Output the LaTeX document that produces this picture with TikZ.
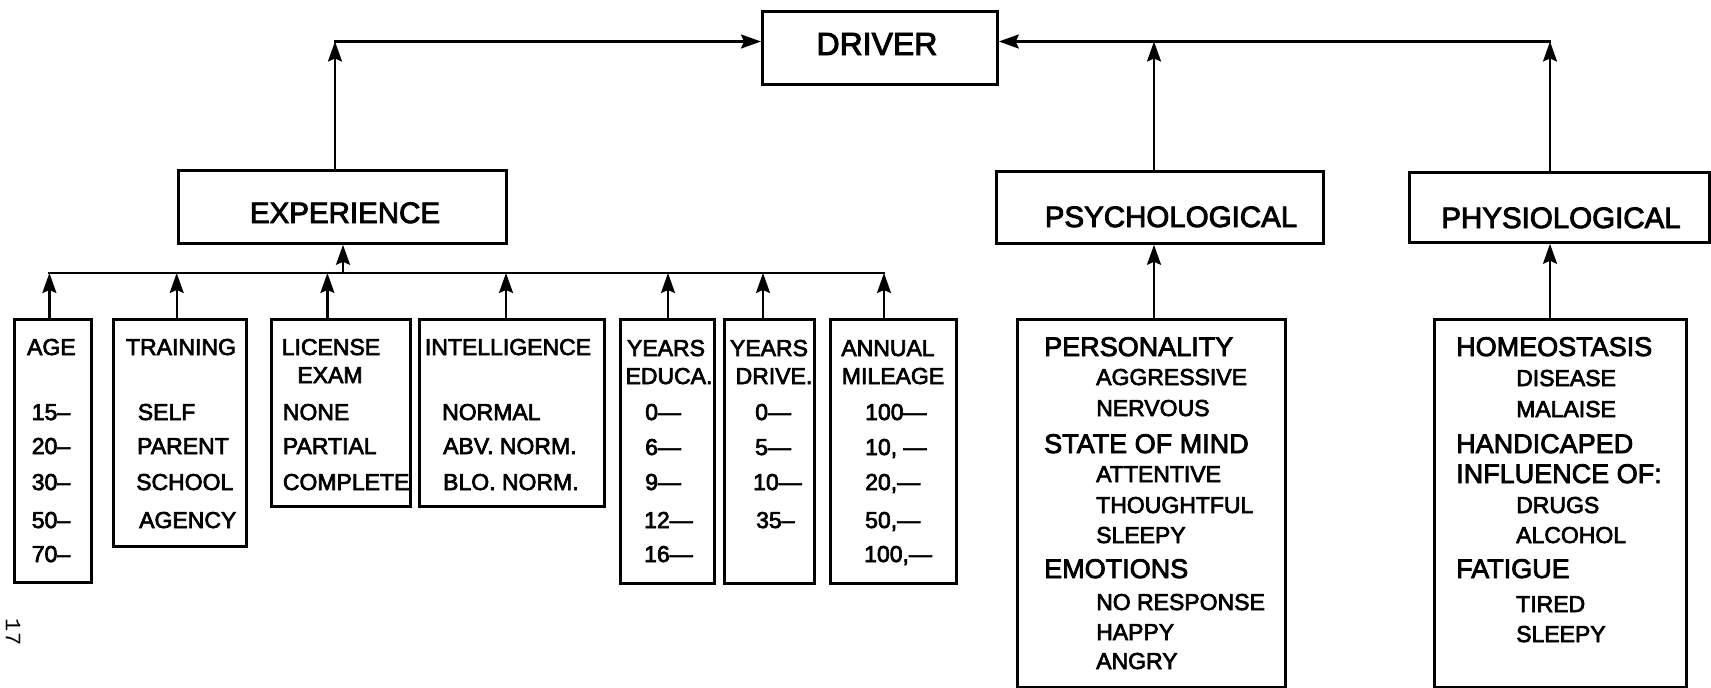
\documentclass[tikz,border=0pt]{standalone}
\usepackage{fontspec}
\setmainfont{Liberation Sans}[FakeBold=3]
\newfontfamily\pgnumfont{Liberation Mono}
\usetikzlibrary{arrows.meta}
\tikzset{
 box/.style={draw, line width=2.8pt, inner sep=0pt, anchor=north west},
 conn/.style={line width=2.2pt, line cap=rect},
 arr/.style={line width=2.2pt, -{Stealth[length=20pt,width=14pt,inset=3pt]}},
 txt/.style={inner sep=0pt, anchor=base west, font=\fontsize{23}{23}\selectfont},
 hd/.style={inner sep=0pt, anchor=base west, font=\fontsize{27}{27}\selectfont},
 ttl/.style={inner sep=0pt, anchor=base, font=\fontsize{23}{23}\selectfont},
 big/.style={inner sep=0pt, anchor=base, font=\fontsize{29.5}{29.5}\selectfont},
}
\begin{document}
\begin{tikzpicture}[x=1pt,y=-1pt]
\useasboundingbox (0,0) rectangle (1711,688);

% main boxes
\node[box, minimum width=235pt, minimum height=73pt] (driver) at (761,10) {};
\node[box, minimum width=328pt, minimum height=73pt] (exp) at (177,169) {};
\node[box, minimum width=327pt, minimum height=72pt] (psych) at (995,170) {};
\node[box, minimum width=300pt, minimum height=70pt] (phys) at (1408,171) {};

\node[big, font=\fontsize{32}{32}\selectfont] (tdriver) at (877,55) {DRIVER};
\node[big] (texp) at (345,223) {EXPERIENCE};
\node[big] (tpsy) at (1171,227) {PSYCHOLOGICAL};
\node[big] (tphy) at (1561,228) {PHYSIOLOGICAL};

% small boxes
\node[box, minimum width=77pt, minimum height=263pt] (age) at (13,318) {};
\node[box, minimum width=133pt, minimum height=227pt] (training) at (112,318) {};
\node[box, minimum width=139pt, minimum height=187pt] (license) at (270,318) {};
\node[box, minimum width=185pt, minimum height=187pt] (intel) at (418,318) {};
\node[box, minimum width=94pt, minimum height=264pt] (educa) at (619,318) {};
\node[box, minimum width=90pt, minimum height=264pt] (drive) at (723,318) {};
\node[box, minimum width=126pt, minimum height=264pt] (mileage) at (829,318) {};
\node[box, minimum width=268pt, minimum height=368pt] (psyitems) at (1016,318) {};
\node[box, minimum width=252pt, minimum height=368pt] (phyitems) at (1433,318) {};

% top connectors
\coordinate (cL) at (335,41.5);
\coordinate (cP) at (1154,41.5);
\coordinate (cR) at (1550,41.5);
\draw[arr] (exp.north -| cL) -- (cL);
\draw[conn] (cL) -- ([xshift=-15pt]cL -| driver.west);
\draw[arr] (cL) -- (cL -| driver.west);
\draw[arr] (psych.north -| cP) -- (cP);
\draw[arr] (phys.north -| cR) -- (cR);
\draw[conn] (cR) -- ([xshift=15pt]cR -| driver.east);
\draw[arr] (cR) -- (cR -| driver.east);
\draw[arr] (psyitems.north -| cP) -- (psych.south -| cP);
\draw[arr] (phyitems.north -| cR) -- (phys.south -| cR);

% bus
\coordinate (bAge) at (49.4,273);
\coordinate (bTrain) at (176.7,273);
\coordinate (bExp) at (343,273);
\coordinate (bLic) at (327.4,273);
\coordinate (bInt) at (506,273);
\coordinate (bEdu) at (668,273);
\coordinate (bDrv) at (763,273);
\coordinate (bMil) at (884,273);
\draw[conn] (bAge) -- (bMil);
\draw[arr] (bExp) -- (exp.south -| bExp);
\draw[arr] (age.north -| bAge) -- (bAge);
\draw[arr] (training.north -| bTrain) -- (bTrain);
\draw[arr] (license.north -| bLic) -- (bLic);
\draw[arr] (intel.north -| bInt) -- (bInt);
\draw[arr] (educa.north -| bEdu) -- (bEdu);
\draw[arr] (drive.north -| bDrv) -- (bDrv);
\draw[arr] (mileage.north -| bMil) -- (bMil);

% AGE
\node[ttl] (tAge) at (51.4,355) {AGE};
\node[txt] (a1) at (31.6,420) {15–};
\node[txt] (a2) at (31.6,454) {20–};
\node[txt] (a3) at (31.6,490) {30–};
\node[txt] (a4) at (31.6,528) {50–};
\node[txt] (a5) at (31.6,562) {70–};
% TRAINING
\node[ttl] (tTrain) at (181,355) {TRAINING};
\node[txt] (t1) at (137.6,420) {SELF};
\node[txt] (t2) at (137,454) {PARENT};
\node[txt] (t3) at (136,490) {SCHOOL};
\node[txt] (t4) at (139,528) {AGENCY};
% LICENSE
\node[ttl] (tLic1) at (331,355) {LICENSE};
\node[ttl] (tLic2) at (330,383) {EXAM};
\node[txt] (l1) at (282.7,420) {NONE};
\node[txt] (l2) at (282.7,454) {PARTIAL};
\node[txt] (l3) at (282.7,490) {COMPLETE};
% INTELLIGENCE
\node[ttl] (tInt) at (508,355) {INTELLIGENCE};
\node[txt] (i1) at (442,420) {NORMAL};
\node[txt] (i2) at (443,454) {ABV.\ NORM.};
\node[txt] (i3) at (443,490) {BLO.\ NORM.};
% YEARS EDUCA
\node[ttl] (tEdu1) at (666,356) {YEARS};
\node[ttl] (tEdu2) at (669,384) {EDUCA.};
\node[txt] (e1) at (645,420) {0—};
\node[txt] (e2) at (645,455) {6—};
\node[txt] (e3) at (645,490) {9—};
\node[txt] (e4) at (644,528) {12—};
\node[txt] (e5) at (644,562) {16—};
% YEARS DRIVE
\node[ttl] (tDrv1) at (769,356) {YEARS};
\node[ttl] (tDrv2) at (774,384) {DRIVE.};
\node[txt] (d1) at (755,420) {0—};
\node[txt] (d2) at (755,455) {5—};
\node[txt] (d3) at (753,490) {10—};
\node[txt] (d4) at (756,528) {35–};
% ANNUAL MILEAGE
\node[ttl] (tMil1) at (888,356) {ANNUAL};
\node[ttl] (tMil2) at (893,384) {MILEAGE};
\node[txt] (m1) at (865,420) {100—};
\node[txt] (m2) at (865,455) {10, —};
\node[txt] (m3) at (865,490) {20,—};
\node[txt] (m4) at (865,528) {50,—};
\node[txt] (m5) at (864,562) {100,—};

% psychological items
\node[hd] (p1) at (1044,356) {PERSONALITY};
\node[txt] (p2) at (1096,385) {AGGRESSIVE};
\node[txt] (p3) at (1096,416) {NERVOUS};
\node[hd] (p4) at (1044,453) {STATE OF MIND};
\node[txt] (p5) at (1096,482) {ATTENTIVE};
\node[txt] (p6) at (1096,513) {THOUGHTFUL};
\node[txt] (p7) at (1096,543) {SLEEPY};
\node[hd] (p8) at (1044,578) {EMOTIONS};
\node[txt] (p9) at (1096,610) {NO RESPONSE};
\node[txt] (p10) at (1096,640) {HAPPY};
\node[txt] (p11) at (1096,669) {ANGRY};

% physiological items
\node[hd] (h1) at (1456,356) {HOMEOSTASIS};
\node[txt] (h2) at (1516,386) {DISEASE};
\node[txt] (h3) at (1516,417) {MALAISE};
\node[hd] (h4) at (1456,453) {HANDICAPED};
\node[hd] (h5) at (1456,483) {INFLUENCE OF:};
\node[txt] (h6) at (1516,513) {DRUGS};
\node[txt] (h7) at (1516,543) {ALCOHOL};
\node[hd] (h8) at (1456,578) {FATIGUE};
\node[txt] (h9) at (1516,612) {TIRED};
\node[txt] (h10) at (1516,642) {SLEEPY};

% page number
\node[rotate=-90, inner sep=0pt, font=\pgnumfont\fontsize{22}{22}\selectfont] (pgnum) at (13,632) {17};
\end{tikzpicture}
\end{document}
